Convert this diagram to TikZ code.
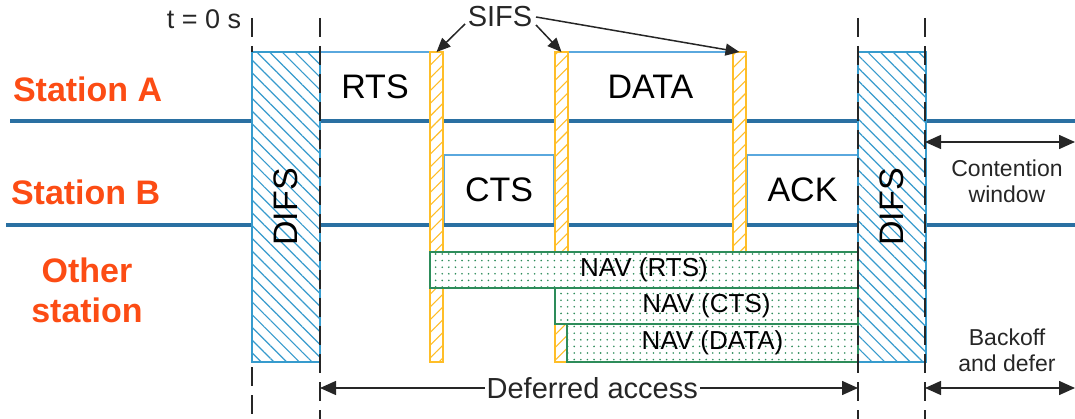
\documentclass[tikz,border=0pt]{standalone}
\usepackage{fontspec}
\setmainfont{Liberation Sans}
\usetikzlibrary{patterns.meta,arrows.meta}

\definecolor{lineblue}{RGB}{42,112,162}
\definecolor{difsblue}{RGB}{55,155,205}
\definecolor{frameblue}{RGB}{90,168,222}
\definecolor{sifsyellow}{RGB}{255,190,40}
\definecolor{navgreen}{RGB}{45,140,90}
\definecolor{stationred}{RGB}{252,76,20}

\begin{document}
\begin{tikzpicture}[x=1pt,y=-1pt,
  every node/.style={inner sep=0pt,outer sep=0pt},
  station/.style={text=stationred,font=\fontsize{34}{40}\selectfont\bfseries,align=center},
  medium/.style={line width=4.5pt,draw=lineblue},
  framebox/.style={draw=frameblue,line width=1.5pt,fill=white,anchor=north west,
    font=\fontsize{34}{38}\selectfont},
  difsbox/.style={draw=difsblue,line width=1.5pt,fill=white,anchor=north west,
    postaction={pattern={Lines[angle=-45,distance=9pt,line width=1.2pt]},pattern color=difsblue},
    minimum width=68pt,minimum height=310pt},
  sifsbar/.style={draw=sifsyellow,line width=1.5pt,fill=white,anchor=north west,
    postaction={pattern={Lines[angle=45,distance=9pt,line width=1.1pt]},pattern color=sifsyellow},
    minimum width=13pt,minimum height=310pt},
  navbox/.style={draw=navgreen,line width=1.5pt,fill=white,anchor=north west,
    postaction={pattern={Dots[distance=6.6pt,radius=0.9pt]},pattern color=navgreen},
    font=\fontsize{26}{29}\selectfont},
  timeline/.style={line width=1.5pt,draw=black!85,dash pattern=on 19pt off 9pt},
  span/.style={line width=1.5pt,draw=black!85,{Triangle[length=16pt,width=14pt]}-{Triangle[length=16pt,width=14pt]}},
  pointer/.style={line width=1.5pt,draw=black!85,-{Triangle[length=14pt,width=12pt]}},
  note/.style={font=\fontsize{23}{26}\selectfont,align=center,text=black!85},
]
\useasboundingbox (0,0) rectangle (1075,419);

% frames on the two stations
\node[framebox,minimum width=110pt,minimum height=69pt] (rts) at (320,52) {RTS};
\node[framebox,minimum width=165pt,minimum height=69pt] (data) at (568,52) {DATA};
\node[framebox,minimum width=110pt,minimum height=70pt] (cts) at (444,155) {CTS};
\node[framebox,minimum width=111pt,minimum height=70pt] (ack) at (747,155) {ACK};

% station time lines
\coordinate (aL) at (10,121);  \coordinate (aR) at (1075,121);
\coordinate (bL) at (6,225);   \coordinate (bR) at (1075,225);
\draw[medium] (aL) -- (aR);
\draw[medium] (bL) -- (bR);

% inter-frame spaces
\node[difsbox] (difs1) at (252,52) {};
\node[difsbox] (difs2) at (858,52) {};
\node[rotate=90,font=\fontsize{34}{36}\selectfont] at (difs1.center) {DIFS};
\node[rotate=90,font=\fontsize{34}{36}\selectfont] at (difs2.center) {DIFS};

\node[sifsbar] (s1) at (430,52) {};
\node[sifsbar] (s2) at (555,52) {};
\node[sifsbar] (s3) at (733,52) {};

% network allocation vectors
\node[navbox,minimum width=428pt,minimum height=36pt] (navrts) at (430,252) {NAV (RTS)};
\node[navbox,minimum width=303pt,minimum height=36pt] (navcts) at (555,288) {NAV (CTS)};
\node[navbox,minimum width=291pt,minimum height=38pt] (navdata) at (567,324) {NAV (DATA)};

% time markers
\draw[timeline] (252,18) -- (252,52);
\draw[timeline] (252,367) -- (252,419);
\draw[timeline] (320,18) -- (320,419);
\draw[timeline] (858,18) -- (858,419);
\draw[timeline] (925,18) -- (925,419);

% station labels
\node[station,anchor=west] (sa) at (13,89) {Station A};
\node[station,anchor=west] (sb) at (11,192) {Station B};
\node[station] (so) at (87,290) {Other\\station};

% top labels
\node[font=\fontsize{27}{30}\selectfont,text=black!85] (t0) at (204,19) {t = 0 s};
\node[font=\fontsize{29}{32}\selectfont,text=black!85] (sifs) at (500,17) {SIFS};
\coordinate (p1) at (465,24);
\coordinate (p2) at (536,25);
\coordinate (p3) at (536,17);
\draw[pointer] (p1) -- (s1.north);
\draw[pointer] (p2) -- (s2.north);
\draw[pointer] (p3) -- (s3.north);

% spans
\coordinate (cw1) at (925,142); \coordinate (cw2) at (1075,142);
\draw[span] (cw1) -- (cw2);
\node[note] (cw) at (1007,181) {Contention\\window};

\coordinate (bo1) at (925,388); \coordinate (bo2) at (1075,388);
\draw[span] (bo1) -- (bo2);
\node[note] (bo) at (1007,350) {Backoff\\and defer};

\coordinate (da1) at (320,388); \coordinate (da2) at (858,388);
\draw[span] (da1) -- (da2)
  node[pos=0.506,fill=white,inner xsep=2pt,font=\fontsize{29}{31}\selectfont,text=black!85] (da) {Deferred access};
\end{tikzpicture}
\end{document}
